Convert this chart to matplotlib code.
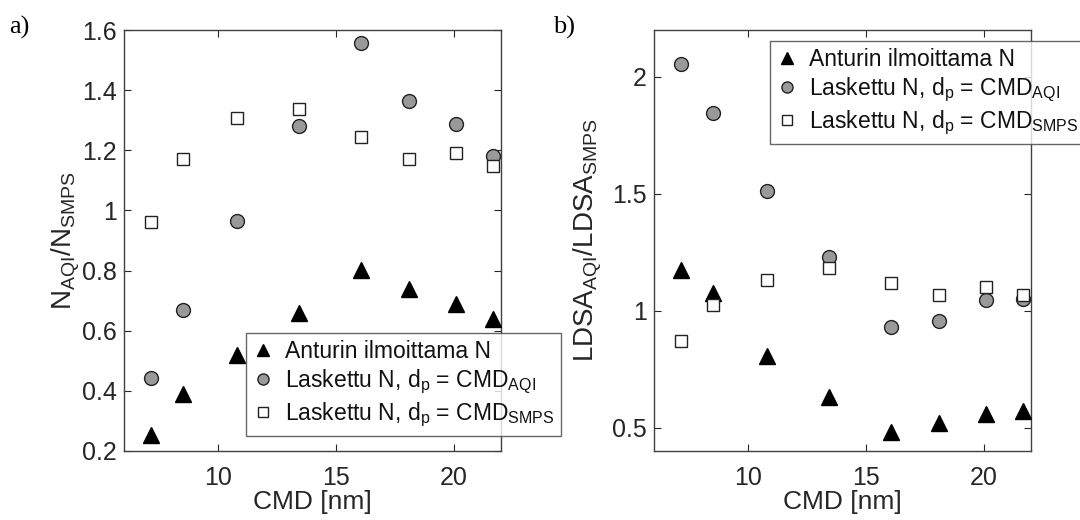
import matplotlib
matplotlib.use("Agg")
import matplotlib.pyplot as plt

plt.rcParams['font.family'] = ['Liberation Sans', 'DejaVu Sans']
plt.rcParams['mathtext.fontset'] = 'custom'
plt.rcParams['mathtext.rm'] = 'Liberation Sans'
plt.rcParams['mathtext.it'] = 'Liberation Sans'

cmd = [7.13, 8.49, 10.79, 13.44, 16.07, 18.09, 20.08, 21.68]

# panel a: N_AQI / N_SMPS
a_sensor = [0.254, 0.39, 0.518, 0.659, 0.803, 0.739, 0.688, 0.640]
a_calc_aqi = [0.444, 0.669, 0.966, 1.281, 1.558, 1.365, 1.289, 1.181]
a_calc_smps = [0.960, 1.172, 1.309, 1.338, 1.244, 1.172, 1.191, 1.149]

# panel b: LDSA_AQI / LDSA_SMPS
b_sensor = [1.175, 1.075, 0.807, 0.633, 0.481, 0.521, 0.560, 0.571]
b_calc_aqi = [2.056, 1.846, 1.512, 1.231, 0.930, 0.954, 1.047, 1.051]
b_calc_smps = [0.871, 1.025, 1.130, 1.181, 1.119, 1.067, 1.101, 1.068]

labels = ["Anturin ilmoittama N",
          r"Laskettu N, $\mathregular{d_p}$ = CMD$\mathregular{_{AQI}}$",
          r"Laskettu N, $\mathregular{d_p}$ = CMD$\mathregular{_{SMPS}}$"]

W, H = 1080, 520
fig = plt.figure(figsize=(W / 100, H / 100), dpi=100)

axc = '#262626'

def make_ax(l, r, t, b):
    return fig.add_axes([l / W, 1 - b / H, (r - l) / W, (b - t) / H])

ax1 = make_ax(124, 501, 30, 451)
ax2 = make_ax(654, 1031, 30, 451)

def draw(ax, s, c, q):
    h1, = ax.plot(cmd, s, linestyle='none', marker='^', markersize=11,
                  color='black', markeredgecolor='black', zorder=3)
    h2, = ax.plot(cmd, c, linestyle='none', marker='o', markersize=10,
                  markerfacecolor='#999999', markeredgecolor='#222222',
                  markeredgewidth=1.0, zorder=3)
    h3, = ax.plot(cmd, q, linestyle='none', marker='s', markersize=8.5,
                  markerfacecolor='white', markeredgecolor='#222222',
                  markeredgewidth=1.0, zorder=3)
    ax.set_xlim(6, 22)
    ax.set_xticks([10, 15, 20])
    ax.tick_params(direction='in', top=True, right=True, labelsize=18,
                   colors=axc, length=5, width=0.8)
    ax.tick_params(axis='x', pad=11)
    ax.tick_params(axis='y', pad=5)
    for sp in ax.spines.values():
        sp.set_color('#404040')
        sp.set_linewidth(1.0)
    ax.set_xlabel('CMD [nm]', fontsize=19, color=axc, labelpad=0)
    return [h1, h2, h3]

hs1 = draw(ax1, a_sensor, a_calc_aqi, a_calc_smps)
ax1.set_ylim(0.2, 1.6)
ax1.set_yticks([0.2, 0.4, 0.6, 0.8, 1.0, 1.2, 1.4, 1.6])
ax1.set_yticklabels(['0.2', '0.4', '0.6', '0.8', '1', '1.2', '1.4', '1.6'])
ax1.set_ylabel(r'$\mathregular{N_{AQI}/N_{SMPS}}$', fontsize=20, color=axc, labelpad=0)

hs2 = draw(ax2, b_sensor, b_calc_aqi, b_calc_smps)
ax2.set_ylim(0.4, 2.2)
ax2.set_yticks([0.5, 1.0, 1.5, 2.0])
ax2.set_yticklabels(['0.5', '1', '1.5', '2'])
ax2.set_ylabel(r'$\mathregular{LDSA_{AQI}/LDSA_{SMPS}}$', fontsize=20, color=axc, labelpad=6)

leg_kw = dict(fontsize=16.5, frameon=True, fancybox=False, borderpad=0.3,
              handlelength=0.9, handletextpad=0.5, labelspacing=0.2,
              borderaxespad=0, markerscale=0.8)

leg1 = fig.legend(hs1, labels, loc='upper left',
                  bbox_to_anchor=(246 / W, 1 - 333 / H), **leg_kw)
leg1.get_frame().set_edgecolor('#404040')
leg1.get_frame().set_linewidth(1.0)
for t in leg1.get_texts():
    t.set_color('#111111')

leg2 = fig.legend(hs2, labels, loc='upper left',
                  bbox_to_anchor=(770 / W, 1 - 41 / H), **leg_kw)
leg2.get_frame().set_edgecolor('#404040')
leg2.get_frame().set_linewidth(1.0)
for t in leg2.get_texts():
    t.set_color('#111111')

fig.text(9 / W, 1 - 34 / H, 'a)', family='Liberation Serif', fontsize=19)
fig.text(553 / W, 1 - 34 / H, 'b)', family='Liberation Serif', fontsize=19)

fig.savefig('out.png', dpi=100)
